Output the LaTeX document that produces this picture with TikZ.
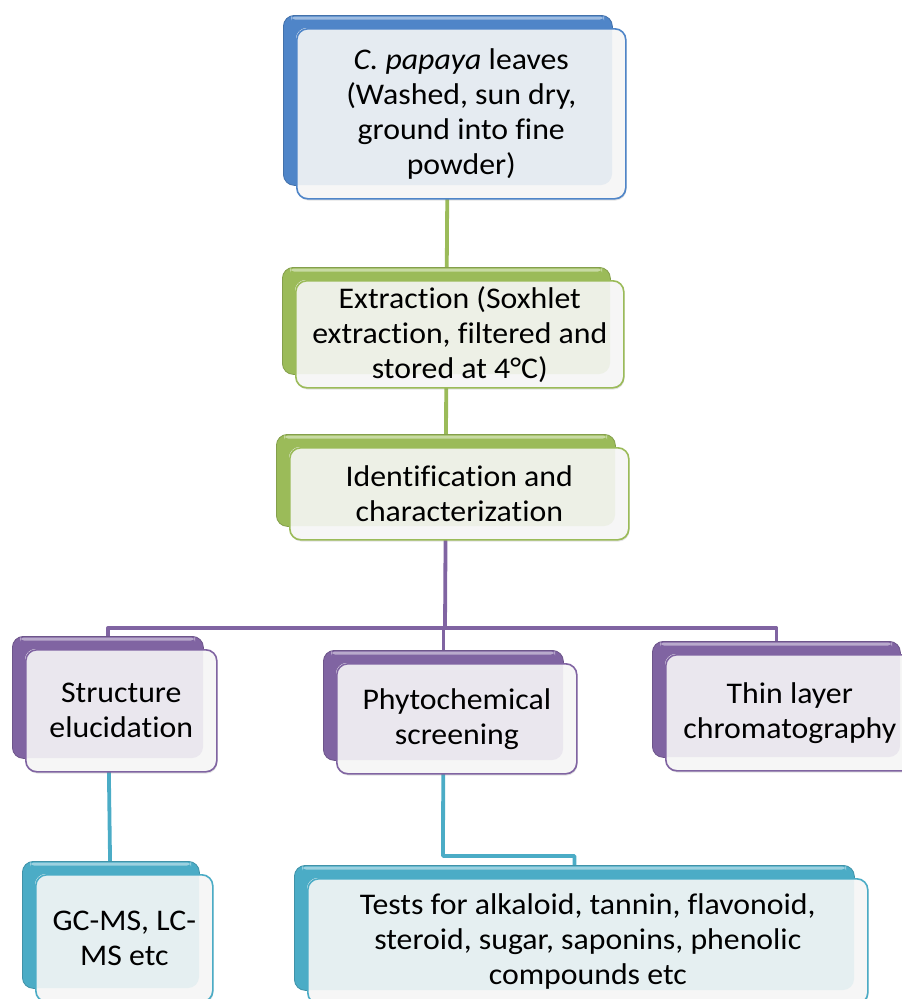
\documentclass[tikz,border=0pt]{standalone}
\usepackage{fontspec}
\setmainfont[Ligatures=NoCommon, FakeStretch=1.06]{Carlito}
\usetikzlibrary{shadows}
\pgfdeclarelayer{bg}
\pgfsetlayers{bg,main}
\definecolor{cblue}{HTML}{4F85C8}
\definecolor{cgreen}{HTML}{9BBB59}
\definecolor{cpurple}{HTML}{8064A2}
\definecolor{ccyan}{HTML}{4BACC6}
\definecolor{fbase}{HTML}{F6F6F6}
\newcommand\mainsz{\fontsize{30}{35}\selectfont}
\tikzset{
  backbox/.style={rectangle, rounded corners=11pt, anchor=north west, inner sep=0pt, line width=0.8pt},
  frontbox/.style={rectangle, rounded corners=11pt, anchor=north west, inner sep=0pt, line width=1.6pt, align=center},
  conn/.style={line width=3.8pt, line join=round, line cap=round}
}
% name, x, y, w, h, color, font, text
\newcommand\smabox[8]{%
  \node[backbox, fill=#6, draw=#6!85!black, minimum width=#4pt, minimum height=#5pt] (#1B) at (#2,#3) {};
  \fill[#6!55!white, rounded corners=4pt] (#2+8,#3+1.5) rectangle ++(#4-16,3);
  \path[fill=fbase, rounded corners=11pt, drop shadow={opacity=0.22,shadow xshift=1.5pt,shadow yshift=-2.5pt}] (#2+13,#3+13) rectangle ++(#4,#5);
  \begin{scope}
    \clip[rounded corners=11pt] (#2+13,#3+13) rectangle ++(#4,#5);
    \fill[#6!10!fbase, rounded corners=11pt] (#2,#3) rectangle ++(#4,#5);
  \end{scope}
  \node[frontbox, draw=#6, minimum width=#4pt, minimum height=#5pt, font=#7] (#1) at (#2+13,#3+13) {#8};
}
\begin{document}
\begin{tikzpicture}[x=1pt,y=-1pt]
\useasboundingbox (0,0) rectangle (902,999);
\smabox{top}{283}{15}{329}{170}{cblue}{\mainsz}{\textit{C. papaya} leaves\\(Washed, sun dry,\\ground into fine\\powder)}
\smabox{ext}{282}{267}{328}{107}{cgreen}{\mainsz}{Extraction (Soxhlet\\extraction, filtered and\\stored at 4°C)}
\smabox{idc}{276}{434}{339}{92}{cgreen}{\mainsz}{Identification and\\characterization}
\smabox{str}{12}{636}{191}{122}{cpurple}{\mainsz}{Structure\\elucidation}
\smabox{phy}{323}{650}{240}{110}{cpurple}{\mainsz}{Phytochemical\\screening}
\smabox{thin}{652}{641}{248}{116}{cpurple}{\mainsz}{Thin layer\\chromatography}
\smabox{gc}{22}{861}{177}{127}{ccyan}{\mainsz}{GC-MS, LC-\\MS etc}
\smabox{tests}{294}{865}{560}{125}{ccyan}{\mainsz}{Tests for alkaloid, tannin, flavonoid,\\steroid, sugar, saponins, phenolic\\compounds etc}
\coordinate (bus) at (445,628);
\coordinate (cyb) at (443,856);
\begin{pgfonlayer}{bg}
  \draw[conn, cgreen] (topB.center) -- (extB.center);
  \draw[conn, cgreen] (extB.center) -- (idcB.center);
  \draw[conn, cpurple] (idcB.center) -- (bus);
  \draw[conn, cpurple] (bus) -| (strB.center);
  \draw[conn, cpurple] (bus) -| (phyB.center);
  \draw[conn, cpurple] (bus) -| (thinB.center);
  \draw[conn, ccyan] (strB.center) -- (gcB.center);
  \draw[conn, ccyan] (phyB.center) -- (cyb) -| (testsB.center);
\end{pgfonlayer}
\end{tikzpicture}
\end{document}
